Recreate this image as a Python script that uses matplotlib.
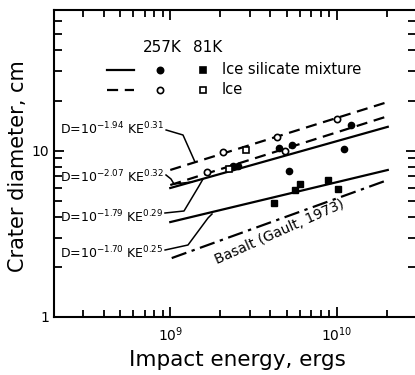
import math
import matplotlib.pyplot as plt
from matplotlib.ticker import LogLocator, NullFormatter, FuncFormatter

plt.rcParams['font.family'] = ['DejaVu Sans']
plt.rcParams['mathtext.fontset'] = 'dejavusans'

# 257K ice silicate mixture (filled circles)
mix257_energy = [2.38e9, 2.55e9, 4.50e9, 5.38e9, 5.16e9, 1.11e10, 1.22e10]
mix257_diam = [8.08, 8.08, 10.4, 10.8, 7.54, 10.2, 14.3]
# 81K ice silicate mixture (filled squares)
mix81_energy = [4.20e9, 5.61e9, 6.01e9, 8.85e9, 1.02e10]
mix81_diam = [4.84, 5.80, 6.30, 6.66, 5.88]
# 257K ice (open circles)
ice257_energy = [1.66e9, 2.07e9, 4.37e9, 4.89e9, 1.00e10]
ice257_diam = [7.44, 9.81, 12.1, 9.95, 15.5]
# 81K ice (open squares)
ice81_energy = [2.25e9, 2.85e9]
ice81_diam = [7.74, 10.1]

# fitted lines (end points)
fit_energy = [1.0e9, 2.03e10]
ice257_fit = [7.65, 19.6]
ice81_fit = [6.21, 16.1]
mix257_fit = [5.96, 13.9]
mix81_fit = [3.72, 7.65]
basalt_energy = [1.02e9, 2.03e10]
basalt_fit = [2.26, 6.66]

fit_labels = [r'D=10$^{\mathregular{-1.94}}$ KE$^{\mathregular{0.31}}$',
              r'D=10$^{\mathregular{-2.07}}$ KE$^{\mathregular{0.32}}$',
              r'D=10$^{\mathregular{-1.79}}$ KE$^{\mathregular{0.29}}$',
              r'D=10$^{\mathregular{-1.70}}$ KE$^{\mathregular{0.25}}$']


def af(px, py):
    # pixel position in the 415x375 picture -> axes fraction
    return (px - 54) / 362, (317 - py) / 307


fig = plt.figure(figsize=(4.15, 3.75), dpi=100)
ax = fig.add_axes([54 / 415, 58 / 375, 362 / 415, 307 / 375])
ax.set_xscale('log')
ax.set_yscale('log')
ax.set_xlim(2e8, 3e10)
ax.set_ylim(1, 70)

lw = 1.6
dash = (0, (5, 3))
ax.plot(fit_energy, ice257_fit, color='black', lw=lw, ls=dash)
ax.plot(fit_energy, ice81_fit, color='black', lw=lw, ls=dash)
ax.plot(fit_energy, mix257_fit, color='black', lw=lw)
ax.plot(fit_energy, mix81_fit, color='black', lw=lw)
ax.plot(basalt_energy, basalt_fit, color='black', lw=lw, ls=(0, (7, 2.5, 1.5, 2.5)))

ms = 4.5
ax.plot(mix257_energy, mix257_diam, 'o', color='black', ms=ms)
ax.plot(mix81_energy, mix81_diam, 's', color='black', ms=ms)
ax.plot(ice257_energy, ice257_diam, 'o', mfc='white', mec='black', mew=1.2, ms=ms)
ax.plot(ice81_energy, ice81_diam, 's', mfc='white', mec='black', mew=1.2, ms=ms)

# legend drawn by hand
ax.text(*af(143, 47), '257K', transform=ax.transAxes, fontsize=11, va='center')
ax.text(*af(193, 47), '81K', transform=ax.transAxes, fontsize=11, va='center')
for py, ls, filled, name in [(70, '-', True, 'Ice silicate mixture'), (90, dash, False, 'Ice')]:
    x0, y0 = af(107, py)
    x1, _ = af(134, py)
    ax.plot([x0, x1], [y0, y0], color='black', lw=lw, ls=ls, transform=ax.transAxes)
    fc = 'black' if filled else 'white'
    ax.plot(*af(160, py), 'o', mfc=fc, mec='black', mew=1.2, ms=ms, transform=ax.transAxes)
    ax.plot(*af(203, py), 's', mfc=fc, mec='black', mew=1.2, ms=ms, transform=ax.transAxes)
    ax.text(*af(222, py), name, transform=ax.transAxes, fontsize=10.5, va='center')

# equation labels and leader lines (leader starts just after the label text)
label_pos = [(60, 129), (60, 177), (60, 217), (60, 253)]
leaders = [[(130,), (183, 135), (195, 162)],
           [(175,), (171, 179), (174, 184), (192, 182)],
           [(213,), (184, 211), (199, 186), (203, 179)],
           [(250,), (188, 245), (208, 218), (212, 214)]]
fig.canvas.draw()
renderer = fig.canvas.get_renderer()
for text, pos, pts in zip(fit_labels, label_pos, leaders):
    t = ax.text(*af(*pos), text, transform=ax.transAxes, fontsize=9, va='center')
    right_px = t.get_window_extent(renderer).x1 - fig.bbox.x0
    pts = [(right_px + 2, pts[0][0])] + pts[1:]
    xs, ys = zip(*[af(*p) for p in pts])
    ax.plot(xs, ys, color='black', lw=1.1, transform=ax.transAxes)

ax.text(*af(280, 232), 'Basalt (Gault, 1973)', transform=ax.transAxes, fontsize=10,
        rotation=24, ha='center', va='center')

# axes styling
for s in ax.spines.values():
    s.set_linewidth(1.5)
ax.xaxis.set_major_locator(LogLocator(base=10))
ax.xaxis.set_minor_locator(LogLocator(base=10, subs=range(2, 10)))
ax.yaxis.set_major_locator(LogLocator(base=10))
ax.yaxis.set_minor_locator(LogLocator(base=10, subs=range(2, 10)))
ax.xaxis.set_minor_formatter(NullFormatter())
ax.yaxis.set_minor_formatter(NullFormatter())
ax.xaxis.set_major_formatter(FuncFormatter(lambda v, p: r'$\mathregular{10^{%d}}$' % round(math.log10(v))))
ax.yaxis.set_major_formatter(FuncFormatter(lambda v, p: '%g' % v))
ax.tick_params(which='both', direction='in', top=True, right=True, width=1.3, labelsize=10)
ax.tick_params(which='major', length=7)
ax.tick_params(which='minor', length=5)
ax.tick_params(axis='y', which='minor', length=6)
ax.tick_params(axis='x', pad=6)

fig.text(237 / 415, 1 - 360 / 375, 'Impact energy, ergs', fontsize=15.5, ha='center', va='center')
fig.text(18 / 415, 1 - 166 / 375, 'Crater diameter, cm', fontsize=15, rotation=90,
         ha='center', va='center')

fig.savefig('out.png', dpi=100)
